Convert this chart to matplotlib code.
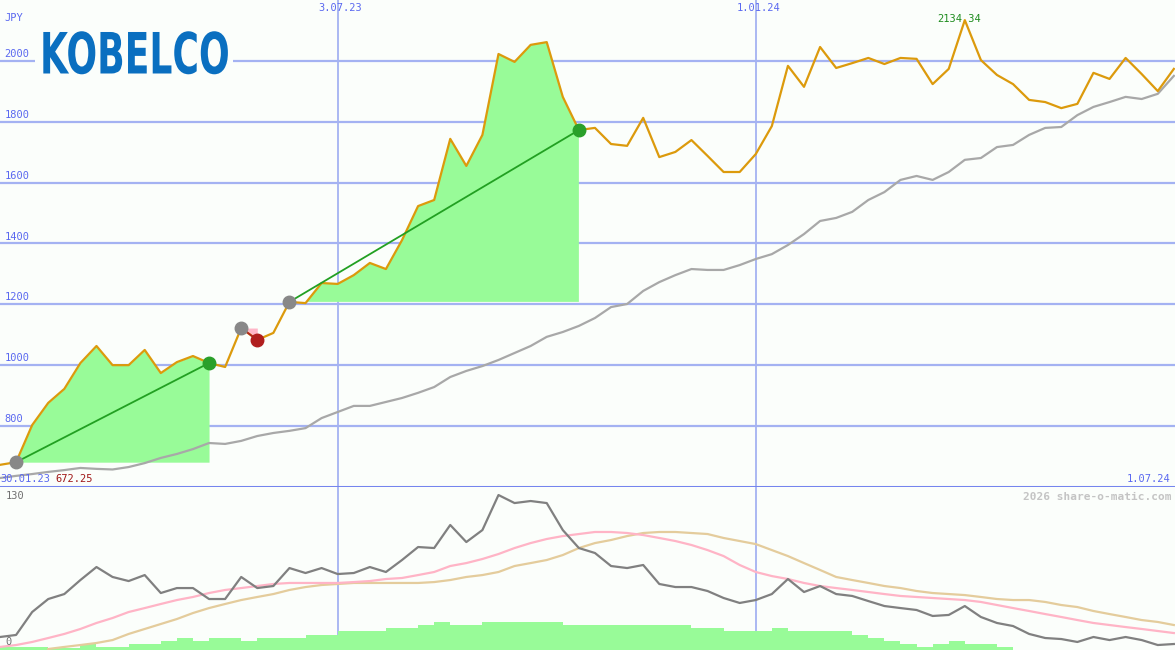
import matplotlib
matplotlib.use("Agg")
import matplotlib.pyplot as plt
import matplotlib.transforms as mtransforms
from matplotlib import patheffects
import numpy as np
import pandas as pd

# weekly closes, KOBELCO (JPY)
price = [672.25, 681, 803, 876, 922, 1007, 1063, 1000, 1000, 1050,
         974, 1010, 1030, 1007, 994, 1122, 1083, 1106, 1208, 1204,
         1270, 1267, 1296, 1336, 1316, 1411, 1523, 1543, 1744, 1655,
         1757, 2023, 1997, 2053, 2062, 1882, 1773, 1780, 1727, 1721,
         1813, 1684, 1701, 1740, 1688, 1635, 1635, 1694, 1786, 1984,
         1915, 2046, 1977, 1993, 2010, 1990, 2010, 2007, 1924, 1974,
         2134.34, 2003, 1954, 1924, 1872, 1865, 1845, 1859, 1961, 1941,
         2010, 1957, 1901, 1974]

avg_line = [629, 636, 642, 649, 655, 662, 659, 657, 665, 678,
            695, 708, 724, 744, 741, 751, 767, 777, 784, 793,
            826, 846, 866, 866, 879, 892, 909, 928, 961, 981,
            997, 1017, 1040, 1063, 1093, 1109, 1129, 1155, 1191, 1201,
            1244, 1273, 1296, 1316, 1313, 1313, 1329, 1349, 1365, 1395,
            1431, 1474, 1484, 1504, 1543, 1569, 1609, 1622, 1609, 1635,
            1675, 1681, 1717, 1724, 1757, 1780, 1783, 1822, 1849, 1865,
            1882, 1875, 1892, 1951]

# lower panel indicator
osc = [11.5, 13.3, 33.6, 45.1, 49.5, 61.9, 73.4, 64.6, 61.0, 66.3,
       50.4, 54.8, 54.8, 45.1, 45.1, 64.6, 54.8, 56.6, 72.5, 68.1,
       72.5, 67.2, 68.1, 73.4, 69.0, 79.6, 91.1, 90.2, 110.6, 95.5,
       106.1, 137.1, 130.0, 131.8, 130.0, 106.1, 90.2, 85.8, 74.3, 72.5,
       75.2, 58.4, 55.7, 55.7, 52.2, 46.0, 41.6, 44.2, 49.5, 62.8,
       51.3, 56.6, 49.5, 47.8, 43.3, 38.9, 37.1, 35.4, 30.1, 31.0,
       38.9, 29.2, 23.9, 21.2, 14.2, 10.6, 9.7, 7.1, 11.5, 8.8,
       11.5, 8.8, 4.4, 5.3]

osc_fast = [2.7, 4.4, 7.1, 10.6, 14.2, 18.6, 23.9, 28.3, 33.6, 37.1,
            40.7, 44.2, 46.9, 50.4, 53.1, 54.8, 56.6, 58.4, 59.3, 59.3,
            59.3, 59.3, 60.1, 61.0, 62.8, 63.7, 66.3, 69.0, 74.3, 76.9,
            80.5, 84.9, 90.2, 94.6, 98.2, 100.8, 102.6, 104.4, 104.4, 103.5,
            101.7, 99.1, 96.4, 92.9, 88.4, 83.1, 75.2, 69.0, 65.4, 62.8,
            59.3, 56.6, 54.8, 53.1, 51.3, 49.5, 47.8, 46.9, 46.0, 45.1,
            44.2, 42.5, 39.8, 37.1, 34.5, 31.8, 29.2, 26.5, 23.9, 22.1,
            20.3, 18.6, 16.8, 15.0]

osc_slow = [np.nan, np.nan, np.nan, 0.9, 2.7, 4.4, 6.2, 8.8, 14.2, 18.6,
            23.0, 27.4, 32.7, 37.1, 40.7, 44.2, 46.9, 49.5, 53.1, 55.7,
            57.5, 58.4, 59.3, 59.3, 59.3, 59.3, 59.3, 60.1, 61.9, 64.6,
            66.3, 69.0, 74.3, 76.9, 79.6, 84.0, 90.2, 94.6, 97.3, 100.8,
            103.5, 104.4, 104.4, 103.5, 102.6, 99.1, 96.4, 93.7, 88.4, 83.1,
            76.9, 70.8, 64.6, 61.9, 59.3, 56.6, 54.8, 52.2, 50.4, 49.5,
            48.6, 46.9, 45.1, 44.2, 44.2, 42.5, 39.8, 38.0, 34.5, 31.8,
            29.2, 26.5, 24.8, 22.1]

volume = [2.7, 2.7, 2.7, 1.8, 1.8, 5.3, 2.7, 2.7, 5.3, 5.3,
          8.0, 10.6, 8.0, 10.6, 10.6, 8.0, 10.6, 10.6, 10.6, 13.3,
          13.3, 16.8, 16.8, 16.8, 19.5, 19.5, 22.1, 24.8, 22.1, 22.1,
          24.8, 24.8, 24.8, 24.8, 24.8, 22.1, 22.1, 22.1, 22.1, 22.1,
          22.1, 22.1, 22.1, 19.5, 19.5, 16.8, 16.8, 16.8, 19.5, 16.8,
          16.8, 16.8, 16.8, 13.3, 10.6, 8.0, 5.3, 2.7, 5.3, 8.0,
          5.3, 5.3, 2.7, 0, 0, 0, 0, 0, 0, 0,
          0, 0, 0, 0]

# (buy week, sell week)
trades = [(1, 13), (15, 16), (18, 36)]

price_levels = [800, 1000, 1200, 1400, 1600, 1800, 2000]
date_marks = ["2023-07-03", "2024-01-01"]
date_mark_labels = ["3.07.23", "1.01.24"]

BG = "#fbfefb"
GRID = "#a4b2f2"
LABEL = "#5a68f0"
GREEN_FILL = "#98fb98"
PINK_FILL = "#ffb6c8"


class Squeeze(patheffects.AbstractPathEffect):
    """Narrow a text horizontally around a fixed display x."""

    def __init__(self, sx, x0):
        super().__init__()
        self.sx, self.x0 = sx, x0

    def draw_path(self, renderer, gc, tpath, affine, rgbFace=None):
        squeeze = (mtransforms.Affine2D().translate(-self.x0, 0)
                   .scale(self.sx, 1).translate(self.x0, 0))
        renderer.draw_path(gc, tpath, affine + squeeze, rgbFace)


dates = pd.date_range("2023-02-06", periods=len(price), freq="7D")
price = np.array(price)
xlim = (dates[0], dates[-1] + pd.Timedelta(days=0.5))

fig = plt.figure(figsize=(11.75, 6.5), dpi=100, facecolor=BG)
ax = fig.add_axes([0, 163 / 650, 1, 487 / 650], facecolor=BG)
ax2 = fig.add_axes([0, 0, 1, 163 / 650], facecolor=BG)

for a in (ax, ax2):
    a.set_xlim(*xlim)
    a.set_xticks([])
    a.set_yticks([])
    for s in a.spines.values():
        s.set_visible(False)
    for d in date_marks:
        a.axvline(pd.Timestamp(d), color=GRID, lw=1.3, zorder=1)

ax.set_ylim(599.4, 2200.5)
ax2.set_ylim(0, 144.2)

mono = dict(family="DejaVu Sans Mono", fontsize=7.5)

ylab = mtransforms.blended_transform_factory(ax.transAxes, ax.transData)
for v in price_levels:
    ax.axhline(v, color=GRID, lw=1.6, zorder=1)
    ax.text(0.004, v + 6, str(v), transform=ylab, color=LABEL,
            va="bottom", ha="left", **mono)
ax.axhline(600.5, color="#7585ee", lw=2.2, zorder=6)

# trades: fill, connecting line, markers
for b, s in trades:
    seg_x = dates[b:s + 1]
    seg_y = price[b:s + 1]
    buy = price[b]
    ax.fill_between(seg_x, seg_y, buy, where=seg_y >= buy, interpolate=True,
                    color=GREEN_FILL, lw=0, zorder=2)
    ax.fill_between(seg_x, seg_y, buy, where=seg_y < buy, interpolate=True,
                    color=PINK_FILL, lw=0, zorder=2)
    win = price[s] > buy
    ax.plot([dates[b], dates[s]], [buy, price[s]],
            color="#22a022" if win else "#b02020", lw=1.3, zorder=5)
    ax.plot(dates[b], buy, "o", ms=9, color="#888888", zorder=6)
    ax.plot(dates[s], price[s], "o", ms=9,
            color="#2aa02a" if win else "#b01e1e", zorder=6)

ax.plot(dates, avg_line, color="#a8a8a8", lw=1.6, zorder=3)
ax.plot(dates, price, color="#dc9a0c", lw=1.6, zorder=4)

# labels
ax.text(0.004, 0.963, "JPY", transform=ax.transAxes, color=LABEL,
        va="center", ha="left", **mono)
for d, lab in zip(date_marks, date_mark_labels):
    ax.annotate(lab, (pd.Timestamp(d), 1), xycoords=("data", "axes fraction"),
                xytext=(2, -2.5), textcoords="offset points", ha="center",
                va="top", color=LABEL, **mono)
ax.annotate("30.01.23", (0, 0), xycoords="axes fraction", xytext=(0, 2),
            textcoords="offset points", ha="left", va="bottom", color=LABEL, **mono)
ax.annotate(f"{price.min():.2f}", (0, 0), xycoords="axes fraction",
            xytext=(40, 2), textcoords="offset points", ha="left",
            va="bottom", color="#a01818", **mono)
ax.annotate("1.07.24", (1, 0), xycoords="axes fraction", xytext=(-3, 2),
            textcoords="offset points", ha="right", va="bottom", color=LABEL, **mono)
imax = int(price.argmax())
ax.annotate(f"{price[imax]:.2f}", (dates[imax], price[imax]), xytext=(-4, -3),
            textcoords="offset points", ha="center", va="bottom",
            color="#1e8c1e", **mono)

# logo: bold text squeezed to the narrow wordmark proportions
logo_x = 40
ax.add_patch(plt.Rectangle((35 / 1175, 1 - 82 / 487), 198 / 1175, 50 / 487,
                           transform=ax.transAxes, facecolor=BG,
                           edgecolor="none", zorder=6))
ax.text(logo_x / 1175, 1 - 58 / 487, "KOBELCO", transform=ax.transAxes,
        color="#0a6fc0", family="DejaVu Sans", fontweight="bold",
        fontsize=41, va="center", ha="left", zorder=7,
        path_effects=[Squeeze(0.635, logo_x)])

# lower panel
ax2.bar(dates, volume, width=7, align="edge", color=GREEN_FILL, lw=0, zorder=2)
ax2.plot(dates, osc_slow, color="#e4cc9c", lw=1.6, zorder=3)
ax2.plot(dates, osc_fast, color="#ffb4c6", lw=1.6, zorder=3)
ax2.plot(dates, osc, color="#808080", lw=1.6, zorder=4)
ax2.annotate("130", (0, 130), xycoords=("axes fraction", "data"), xytext=(4, 1.5),
             textcoords="offset points", ha="left", va="bottom",
             color="#707070", **mono)
ax2.annotate("0", (0, 0), xycoords=("axes fraction", "data"), xytext=(4, 2),
             textcoords="offset points", ha="left", va="bottom",
             color="#707070", **mono)
ax2.text(0.997, 0.94, "2026 share-o-matic.com", transform=ax2.transAxes,
         ha="right", va="center", color="#c4c4c4", fontweight="bold",
         family="DejaVu Sans Mono", fontsize=8)

fig.savefig("out.png", dpi=100, facecolor=BG)
